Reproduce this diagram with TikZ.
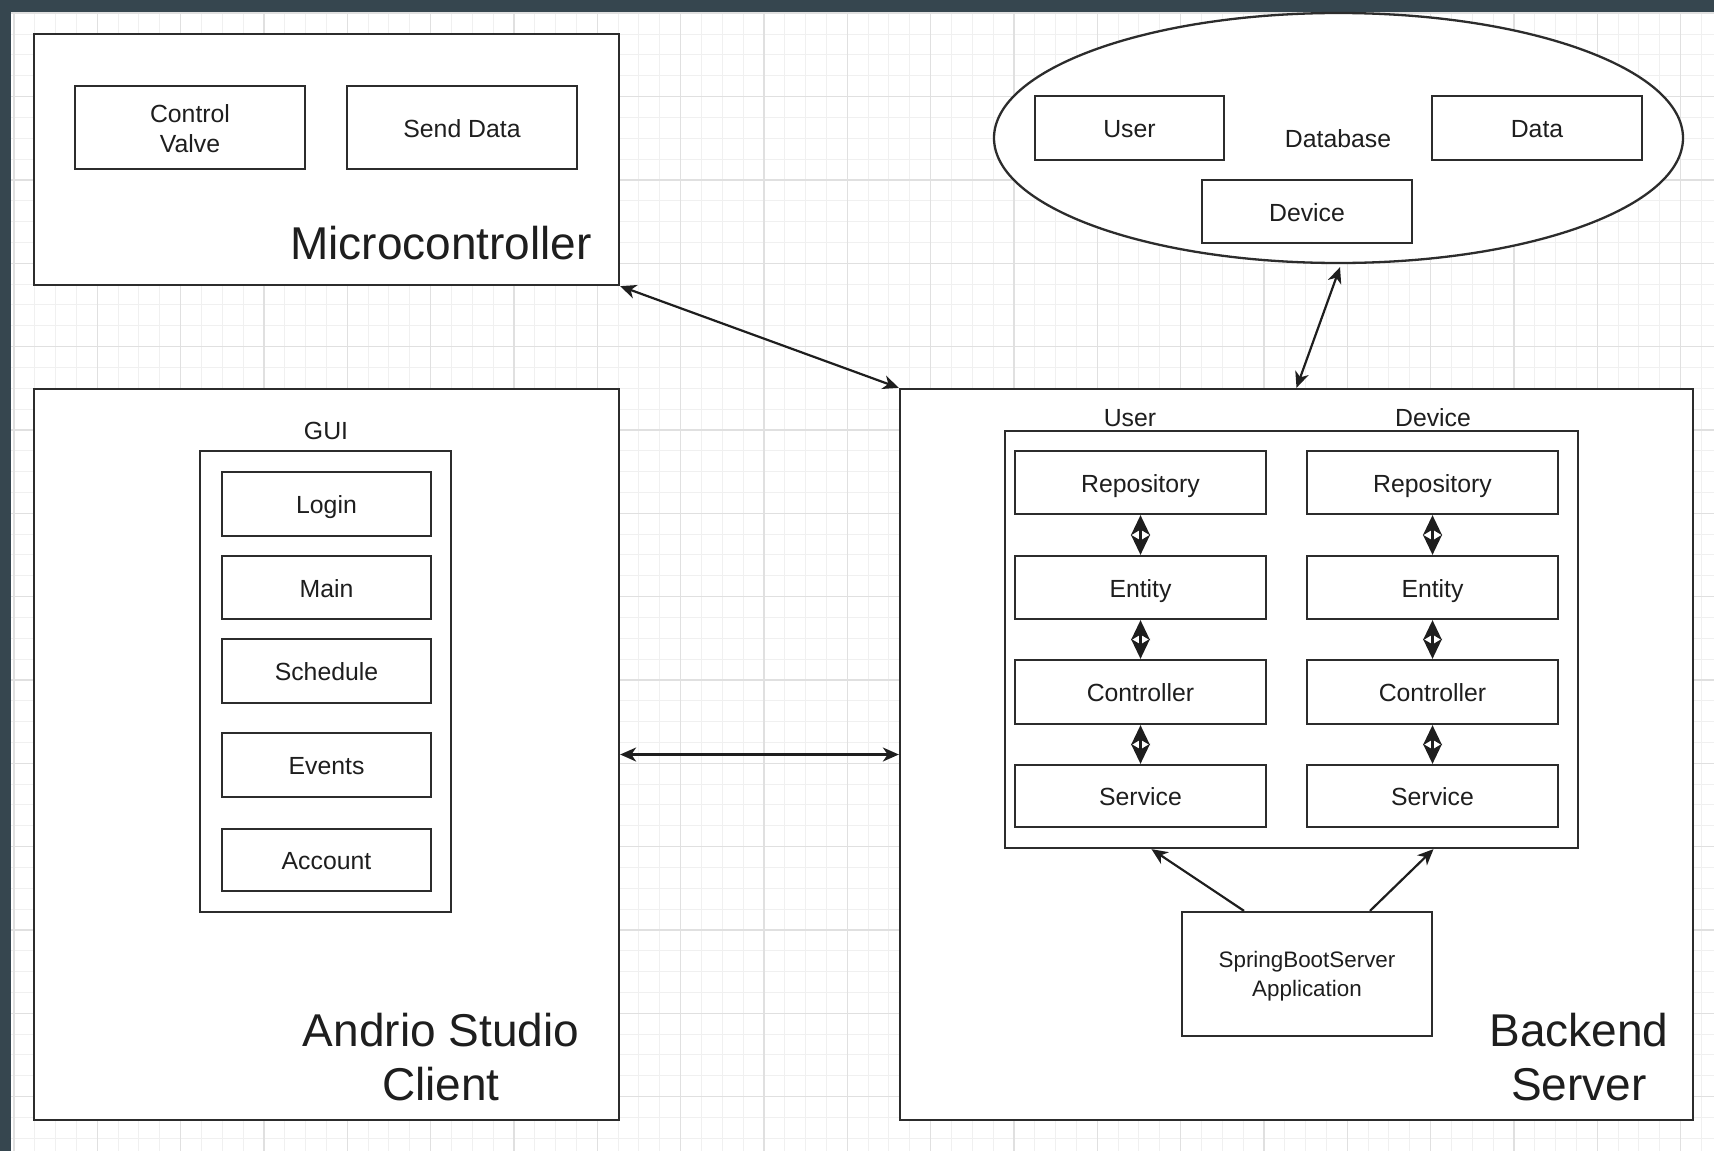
\documentclass[tikz,border=0pt]{standalone}
\usepackage{fontspec}
\setmainfont{Liberation Sans}
\usetikzlibrary{arrows.meta,fit,shapes.geometric,calc}
\definecolor{frame}{HTML}{36464F}
\definecolor{edge}{HTML}{2C2C2C}
\definecolor{ink}{HTML}{1E1E1E}
\definecolor{gminor}{HTML}{F0F0F0}
\definecolor{gmajor}{HTML}{E0E0E0}
\begin{document}
\begin{tikzpicture}[x=0.5pt, y=-0.5pt,
  box/.style={draw=edge, line width=1.15pt, fill=white, inner sep=0pt},
  lbl/.style={text=ink, inner sep=0pt, align=center, font=\fontsize{12.4}{15}\selectfont},
  word/.style={lbl, anchor=base, yshift=-4.9pt},
  bigtxt/.style={text=ink, inner sep=0pt, align=center, font=\fontsize{23}{26.8}\selectfont},
  twoway/.style={draw=ink, line width=1.1pt, {Stealth[length=8pt, width=7pt, inset=2.4pt]}-{Stealth[length=8pt, width=7pt, inset=2.4pt]}},
  stackway/.style={draw=ink, line width=1.2pt, {Stealth[length=10pt, width=9.5pt, inset=2.8pt]}-{Stealth[length=10pt, width=9.5pt, inset=2.8pt]}},
  oneway/.style={draw=ink, line width=1.1pt, -{Stealth[length=8pt, width=7pt, inset=2.4pt]}}]

\useasboundingbox (0,0) rectangle (1714,1151);

% canvas: dark window frame and gridded page
\fill[frame] (0,0) rectangle (1714,1151);
\fill[white] (11,12) rectangle (1714,1151);
\foreach \i in {0,...,81} {
  \pgfmathsetmacro\gx{14+\i*20.833}
  \draw[gminor, line width=0.5pt] (\gx,12) -- (\gx,1151);
}
\foreach \i in {0,...,54} {
  \pgfmathsetmacro\gy{13.3+\i*20.833}
  \draw[gminor, line width=0.5pt] (11,\gy) -- (1714,\gy);
}
\foreach \i in {0,...,20} {
  \pgfmathsetmacro\gx{14+\i*83.33}
  \draw[gmajor, line width=0.6pt] (\gx,12) -- (\gx,1151);
}
\foreach \i in {0,...,13} {
  \pgfmathsetmacro\gy{13.3+\i*83.33}
  \draw[gmajor, line width=0.6pt] (11,\gy) -- (1714,\gy);
}
\draw[gmajor, line width=0.8pt] (11,13) -- (1714,13);

% Microcontroller
\node[box, fit={(34,34) (619,285)}] (micro) {};
\node[box, fit={(75,86) (305,169)}] (valve) {};
\node[lbl, yshift=-0.6pt] at (valve.center) {Control\\Valve};
\node[box, fit={(347,86) (577,169)}] (send) {};
\node[word] at (send.center) {Send Data};
\node[bigtxt] (microtitle) at (441,243) {Microcontroller};

% Android client
\node[box, fit={(34,389) (619,1120)}] (client) {};
\node[lbl] (guititle) at (326,431) {GUI};
\node[box, fit={(200,451) (451,912)}] (gui) {};
\node[box, fit={(222,472) (431,536)}] (login) {};
\node[word] at (login.center) {Login};
\node[box, fit={(222,556) (431,619)}] (main) {};
\node[word] at (main.center) {Main};
\node[box, fit={(222,639) (431,703)}] (sched) {};
\node[word] at (sched.center) {Schedule};
\node[box, fit={(222,733) (431,797)}] (events) {};
\node[word] at (events.center) {Events};
\node[box, fit={(222,829) (431,891)}] (account) {};
\node[word] at (account.center) {Account};
\node[bigtxt] (clienttitle) at (441,1057) {Andrio Studio\\Client};

% Database
\node[ellipse, draw=edge, line width=1.15pt, fill=white, inner sep=0pt,
  minimum width=344.5pt, minimum height=125pt] (db) at (1338.5,138) {};
\node[lbl] (dbtitle) at (1338,139) {Database};
\node[box, fit={(1035,96) (1224,160)}] (dbuser) {};
\node[word] at (dbuser.center) {User};
\node[box, fit={(1432,96) (1642,160)}] (dbdata) {};
\node[word] at (dbdata.center) {Data};
\node[box, fit={(1202,180) (1412,243)}] (dbdevice) {};
\node[word] at (dbdevice.center) {Device};

% Backend server
\node[box, fit={(900,389) (1693,1120)}] (backend) {};
\node[lbl] (usertitle) at (1130,418) {User};
\node[lbl] (devicetitle) at (1433,418) {Device};
\node[box, fit={(1005,431) (1578,848)}] (layers) {};
\node[box, fit={(1015,451) (1266,514)}] (urepo) {};
\node[word] at (urepo.center) {Repository};
\node[box, fit={(1015,556) (1266,619)}] (uent) {};
\node[word] at (uent.center) {Entity};
\node[box, fit={(1015,660) (1266,724)}] (uctrl) {};
\node[word] at (uctrl.center) {Controller};
\node[box, fit={(1015,765) (1266,827)}] (usvc) {};
\node[word] at (usvc.center) {Service};
\node[box, fit={(1307,451) (1558,514)}] (drepo) {};
\node[word] at (drepo.center) {Repository};
\node[box, fit={(1307,556) (1558,619)}] (dent) {};
\node[word] at (dent.center) {Entity};
\node[box, fit={(1307,660) (1558,724)}] (dctrl) {};
\node[word] at (dctrl.center) {Controller};
\node[box, fit={(1307,765) (1558,827)}] (dsvc) {};
\node[word] at (dsvc.center) {Service};
\node[box, fit={(1182,912) (1432,1036)}] (app) {};
\node[lbl, font=\fontsize{11.2}{14.2}\selectfont] at ([yshift=-1pt]app.center) {SpringBootServer\\Application};
\node[bigtxt] (backendtitle) at (1579,1057) {Backend\\Server};

% layer links
\draw[stackway] (urepo) -- (uent);
\draw[stackway] (uent) -- (uctrl);
\draw[stackway] (uctrl) -- (usvc);
\draw[stackway] (drepo) -- (dent);
\draw[stackway] (dent) -- (dctrl);
\draw[stackway] (dctrl) -- (dsvc);

% application entry points
\draw[oneway] ($(app.north)+(-63,0)$) -- ($(layers.south)+(-140,0)$);
\draw[oneway] ($(app.north)+(63,0)$) -- ($(layers.south)+(142,0)$);

% system links
\draw[twoway] (micro.south east) -- (backend.north west);
\draw[twoway] (client.east) -- (backend.west);
\draw[twoway] ($(db.south)+(1.5,3)$) -- (backend.north);
\end{tikzpicture}
\end{document}
